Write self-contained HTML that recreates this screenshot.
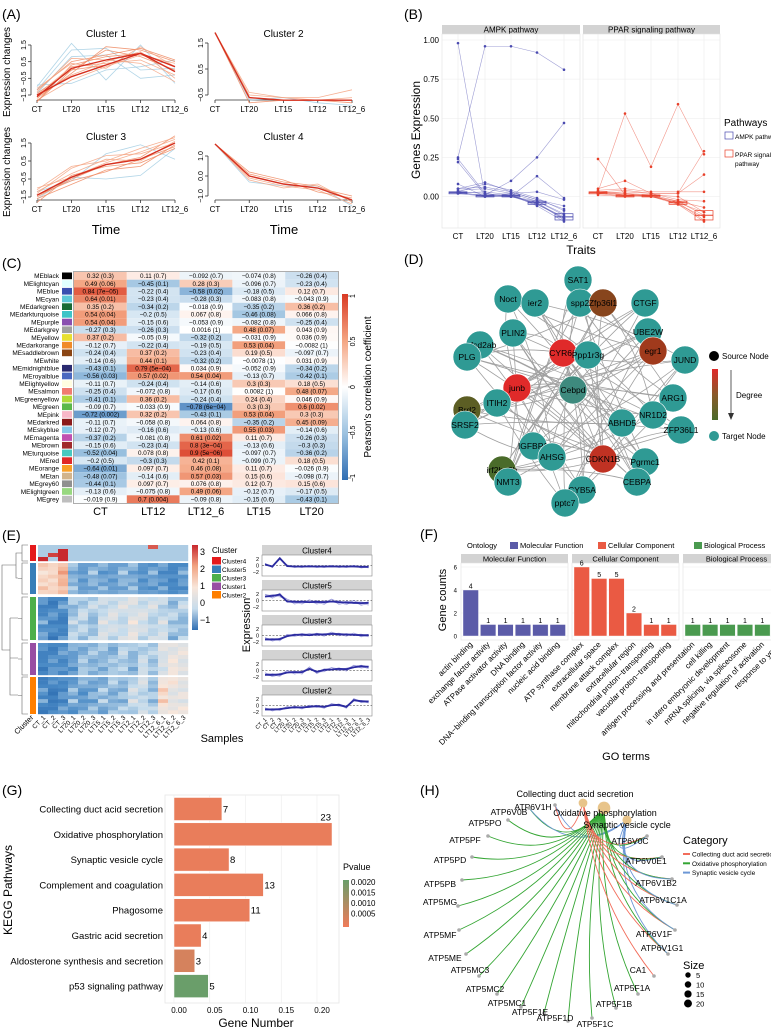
<!DOCTYPE html>
<html><head><meta charset="utf-8"><style>
html,body{margin:0;padding:0;background:#fff;}
svg{display:block;font-family:"Liberation Sans",Arial,sans-serif;}
</style></head><body>
<svg id="fig" xmlns="http://www.w3.org/2000/svg" width="771" height="1029" viewBox="0 0 771 1029">
<rect x="0" y="0" width="771" height="1029" fill="#fff"/>
<defs>
<linearGradient id="gC" x1="0" y1="0" x2="0" y2="1"><stop offset="0" stop-color="#d93a24"/><stop offset="0.25" stop-color="#f4a582"/><stop offset="0.5" stop-color="#ffffff"/><stop offset="0.75" stop-color="#9cc2e0"/><stop offset="1" stop-color="#2f6db3"/></linearGradient>
<linearGradient id="gE" x1="0" y1="0" x2="0" y2="1"><stop offset="0" stop-color="#c8282e"/><stop offset="0.25" stop-color="#f1a482"/><stop offset="0.5" stop-color="#f8e6da"/><stop offset="0.75" stop-color="#c6dcec"/><stop offset="1" stop-color="#2f6fb3"/></linearGradient>
<linearGradient id="gD" x1="0" y1="0" x2="0" y2="1"><stop offset="0" stop-color="#e02a2a"/><stop offset="0.5" stop-color="#8a5a2a"/><stop offset="1" stop-color="#4a6b2a"/></linearGradient>
<linearGradient id="gG" x1="0" y1="0" x2="0" y2="1"><stop offset="0" stop-color="#6a9e6a"/><stop offset="1" stop-color="#f07b5a"/></linearGradient>
</defs>
<g font-size="14">
<text x="2" y="19">(A)</text>
<text x="404" y="19">(B)</text>
<text x="2" y="268">(C)</text>
<text x="404" y="264">(D)</text>
<text x="2" y="540">(E)</text>
<text x="420" y="539">(F)</text>
<text x="2" y="795">(G)</text>
<text x="420" y="795">(H)</text>
</g>
</svg>
<script>
const NS='http://www.w3.org/2000/svg';
const svg=document.getElementById('fig');
function mk(tag,attrs,parent){const e=document.createElementNS(NS,tag);for(const k in attrs)e.setAttribute(k,attrs[k]);(parent||svg).appendChild(e);return e;}
function txt(x,y,s,size,attrs,parent){const t=mk('text',Object.assign({x:x,y:y,'font-size':size},attrs||{}),parent);t.textContent=s;return t;}
function grp(name,parent){const g=mk('g',{},parent);return g;}

/* ============ Panel A data ============ */
const timeLabels=['CT','LT20','LT15','LT12','LT12_6'];
const c1Red=[[-1.9,0.3,0.8,1.0,0.2],[-1.6,-0.3,0.5,1.1,-0.5],[-1.4,0.0,1.2,0.8,0.0],[-1.8,-0.6,0.2,0.9,0.4],[-1.2,0.5,0.9,1.3,0.6],[-1.5,0.2,0.4,0.6,-0.3],[-1.7,-0.2,1.4,1.2,0.5],[-1.3,0.7,0.6,0.4,-0.7],[-1.9,0.0,0.3,1.0,-0.1],[-1.1,0.4,0.1,1.4,0.2]];
const c1Blue=[[-1.0,1.6,-0.6,1.5,-0.8],[-1.2,1.2,1.3,0.0,0.1],[-0.9,-0.8,0.0,0.2,0.6],[-1.4,0.8,0.9,-0.5,-0.3]];
const c1Mean=[[-1.6,0.1,0.6,1.0,-0.1],[-1.5,-0.4,0.3,1.0,0.2]];
const c2Red=[[1.9,-0.6,-0.7,-0.7,-0.7],[1.9,-0.4,-0.6,-0.6,-0.3],[1.9,-0.8,-0.7,-0.7,-0.8],[1.9,-0.5,-0.6,-0.7,-0.6]];
const c2Blue=[[1.9,-0.7,-0.6,-0.8,-0.9]];
const c2Mean=[[1.9,-0.6,-0.7,-0.7,-0.7]];
const c3Red=[[-1.5,-0.5,0.3,0.7,1.9],[-1.2,-0.2,0.6,0.5,1.6],[-1.6,-0.8,0.0,0.2,1.4],[-1.0,-0.4,0.4,1.0,1.7],[-1.8,-0.3,0.2,0.4,1.2],[-1.3,0.1,0.8,0.9,1.5],[-1.4,-0.6,-0.1,0.6,1.3],[-1.1,0.2,0.5,1.2,1.8]];
const c3Blue=[[-1.2,-0.6,0.9,1.4,0.6],[-1.6,-0.4,-0.5,-0.3,1.2]];
const c3Mean=[[-1.4,-0.4,0.3,0.6,1.5]];
const c4Red=[[1.6,0.1,-0.3,-0.5,-1.2],[1.6,-0.1,-0.5,-0.7,-1.4],[1.6,0.0,-0.4,-0.6,-1.0],[1.6,-0.2,-0.6,-0.4,-1.3],[1.6,0.2,-0.2,-0.8,-1.1]];
const c4Blue=[[1.6,-0.3,-0.5,-0.5,-1.5]];
const c4Mean=[[1.6,0.0,-0.4,-0.6,-1.2]];

/* ============ Panel B data ============ */
const traits=['CT','LT20','LT15','LT12','LT12_6'];
const ampkLines=[[0.98,0.0,0.0,-0.04,-0.14],[0.25,0.96,0.96,0.92,0.81],[0.22,0.01,0.1,0.25,0.47],[0.24,0.02,0.0,0.13,-0.01],[0.08,0.0,0.02,0.03,-0.02],[0.05,0.09,0.03,-0.02,-0.06],[0.03,0.08,0.04,-0.01,-0.09],[0.04,0.05,0.02,-0.03,-0.11],[0.02,0.03,0.01,-0.05,-0.13],[0.03,0.02,0.0,-0.04,-0.15],[0.02,0.0,0.01,-0.06,-0.16],[0.05,0.06,0.03,-0.02,-0.08],[0.02,0.01,0.0,-0.05,-0.14],[0.03,0.0,0.0,-0.03,-0.12]];
const pparLines=[[0.24,0.01,0.01,0.0,-0.1],[0.03,0.53,0.19,0.59,0.27],[0.05,0.1,0.02,0.02,0.14],[0.04,0.05,0.03,0.03,0.03],[0.03,0.04,0.02,0.02,0.29],[0.02,0.03,0.02,-0.02,-0.03],[0.03,0.02,0.01,-0.03,-0.07],[0.02,0.01,0.0,-0.04,-0.1],[0.02,0.0,0.01,-0.05,-0.13],[0.03,0.01,0.0,-0.04,-0.15],[0.02,0.02,0.0,-0.03,-0.12],[0.01,0.0,0.0,-0.05,-0.16]];
const ampkBoxQ1=[0.02,0.0,0.0,-0.05,-0.15];
const ampkBoxQ3=[0.03,0.01,0.01,-0.03,-0.11];
const pparBoxQ1=[0.02,0.0,0.0,-0.05,-0.15];
const pparBoxQ3=[0.03,0.01,0.01,-0.03,-0.09];
const bTicks=[0,0.25,0.5,0.75,1.0];
const bTickLabels=['0.00','0.25','0.50','0.75','1.00'];

/* ============ Panel C data ============ */
const modules=['MEblack','MElightcyan','MEblue','MEcyan','MEdarkgreen','MEdarkturquoise','MEpurple','MEdarkgrey','MEyellow','MEdarkorange','MEsaddlebrown','MEwhite','MEmidnightblue','MEroyalblue','MElightyellow','MEsalmon','MEgreenyellow','MEgreen','MEpink','MEdarkred','MEskyblue','MEmagenta','MEbrown','MEturquoise','MEred','MEorange','MEtan','MEgrey60','MElightgreen','MEgrey'];
const moduleColors=['#000000','#e0ffff','#3a4fb0','#5fc8d8','#1a6b35','#3ec4c8','#8a4fb0','#a0a0a0','#e8e030','#f08a28','#8b4513','#ffffff','#2a2a70','#4a68c0','#fffde0','#f07a70','#b0d838','#5ab84a','#f8b8c8','#8b1a1a','#88c8e8','#c050b0','#a02a2a','#48c8c0','#e02828','#f8a028','#d2b48c','#909090','#98d880','#bebebe'];
const traitsC=['CT','LT12','LT12_6','LT15','LT20'];
const corr=[
[0.32,0.11,-0.092,-0.074,-0.26],[0.49,-0.45,0.28,-0.096,-0.23],[0.84,-0.22,-0.58,-0.18,0.12],[0.64,-0.23,-0.28,-0.083,-0.043],[0.35,-0.34,-0.018,-0.35,0.36],[0.54,-0.2,0.067,-0.46,0.066],[0.54,-0.15,-0.053,-0.082,-0.25],[-0.27,-0.26,0.0016,0.48,0.043],[0.37,-0.05,-0.32,-0.031,0.036],[-0.12,-0.22,-0.19,0.53,-0.0082],[-0.24,0.37,-0.23,0.19,-0.097],[-0.14,0.44,-0.32,-0.0078,0.031],[-0.43,0.79,0.034,-0.052,-0.34],[-0.56,0.57,0.54,-0.13,-0.42],[-0.11,-0.24,-0.14,0.3,0.18],[-0.25,-0.072,-0.17,0.0082,0.48],[-0.41,0.36,-0.24,0.24,0.046],[-0.09,-0.033,-0.78,0.3,0.6],[-0.72,0.32,-0.43,0.53,0.3],[-0.11,-0.058,0.064,-0.35,0.45],[-0.12,-0.16,-0.13,0.55,-0.14],[-0.37,-0.081,0.61,0.11,-0.26],[-0.15,-0.23,0.8,-0.13,-0.3],[-0.52,0.078,0.9,-0.097,-0.36],[-0.2,-0.3,0.42,-0.099,0.18],[-0.64,0.097,0.46,0.11,-0.026],[-0.48,-0.14,0.57,0.15,-0.098],[-0.44,0.097,0.076,0.12,0.15],[-0.13,-0.075,0.49,-0.12,-0.17],[-0.019,0.7,-0.09,-0.15,-0.43]];
const pvals=[
['0.3','0.7','0.7','0.8','0.4'],['0.06','0.1','0.3','0.7','0.4'],['7e−05','0.4','0.02','0.5','0.7'],['0.01','0.4','0.3','0.8','0.9'],['0.2','0.2','0.9','0.2','0.2'],['0.04','0.5','0.8','0.08','0.8'],['0.04','0.6','0.9','0.8','0.4'],['0.3','0.3','1','0.07','0.9'],['0.2','0.9','0.2','0.9','0.9'],['0.7','0.4','0.5','0.04','1'],['0.4','0.2','0.4','0.5','0.7'],['0.6','0.1','0.2','1','0.9'],['0.1','5e−04','0.9','0.9','0.2'],['0.03','0.02','0.04','0.7','0.1'],['0.7','0.4','0.6','0.3','0.5'],['0.4','0.8','0.6','1','0.07'],['0.1','0.2','0.4','0.4','0.9'],['0.7','0.9','6e−04','0.3','0.02'],['0.002','0.2','0.1','0.04','0.3'],['0.7','0.8','0.8','0.2','0.09'],['0.7','0.6','0.6','0.03','0.6'],['0.2','0.8','0.02','0.7','0.3'],['0.6','0.4','3e−04','0.6','0.3'],['0.04','0.8','5e−06','0.7','0.2'],['0.5','0.3','0.1','0.7','0.5'],['0.01','0.7','0.08','0.7','0.9'],['0.07','0.6','0.03','0.6','0.7'],['0.1','0.7','0.8','0.7','0.6'],['0.6','0.8','0.06','0.7','0.5'],['0.9','0.004','0.8','0.6','0.1']];
const cbTicks=[1,0.5,0,-0.5,-1];
const cbTickLabels=['1','0.5','0','−0.5','−1'];

/* ============ Panel D data ============ */
const netNodes=['SAT1','Noct','ier2','spp2','Zfp36l1','CTGF','PLIN2','UBE2W','mfsd2ab','PLG','CYR61','Ppp1r3g','egr1','JUND','junb','Cebpd','ARG1','ITIH2','Brd2','NR1D2','SRSF2','ABHD5','ZFP36L1','IGFBP1','AHSG','CDKN1B','Pgrmc1','irf2bp2b','NMT3','CEBPA','CYB5A','pptc7'];
const netDegree=[0,0,0,0,0.7,0,0,0,0,0,1,0,0.8,0,1,0.15,0,0,0.5,0,0,0,0,0,0,0.9,0,0.4,0,0,0,0];
const netEdges='10-0 10-3 10-6 10-14 10-15 10-17 10-21 10-25 10-29 10-13 10-9 10-30 14-1 14-6 14-15 14-23 14-25 14-19 14-16 14-28 14-20 14-5 14-31 15-2 15-7 15-12 15-21 15-24 15-26 15-29 15-8 15-18 15-30 25-4 25-11 25-17 25-22 25-27 25-23 25-13 25-9 25-0 25-6 12-1 12-20 12-24 12-31 12-17 12-3 4-9 4-19 4-28 4-23 4-16 18-13 18-21 18-7 18-26 27-11 27-19 27-5 27-22 27-29 0-31 1-26 2-29 3-28 5-24 6-22 7-20 8-21 9-16 11-20 13-31 16-30 17-26 19-8 21-2 22-9 23-7 24-1 26-6 28-0 29-8 30-9 31-17 2-13 3-16 5-17 8-30 11-28 20-24 1-19 6-29 7-31 13-23 22-20 26-3 28-21';

/* ============ Panel E data ============ */
const sampleLabels=['CT_1','CT_2','CT_3','LT20_1','LT20_2','LT20_3','LT15_1','LT15_2','LT15_3','LT12_1','LT12_2','LT12_3','LT12_6_1','LT12_6_2','LT12_6_3'];
const eClusterNames=['Cluster4','Cluster5','Cluster3','Cluster1','Cluster2'];
const eClusterColors=['#e41a1c','#377eb8','#4daf4a','#984ea3','#ff7f00'];
const eRowCounts=[4,8,11,8,10];
const c4Matrix=[[-0.2,-0.2,-0.2,-0.2,-0.2,-0.2,-0.2,-0.2,-0.2,-0.2,-0.2,2.6,-0.2,-0.2,-0.2],[-0.2,-0.2,3,-0.2,-0.2,-0.2,-0.2,-0.2,-0.2,-0.2,-0.2,-0.2,-0.2,-0.2,-0.2],[-0.2,2.8,3,-0.2,-0.2,-0.2,-0.2,-0.2,-0.2,-0.2,-0.2,-0.2,-0.2,-0.2,-0.2],[3,-0.2,3,-0.2,-0.2,-0.2,-0.2,-0.2,-0.2,-0.2,-0.2,-0.2,-0.2,-0.2,-0.2]];
const c5Profile=[1.2,1.4,1.6,-0.5,-0.6,-0.6,-0.7,-0.6,-0.6,-0.6,-0.7,-0.8,-0.9,-0.9,-0.9];
const c3Profile=[-1,-1,-1,-0.3,0,-0.2,0.1,0.3,0.2,0.4,0.3,0.1,0,-0.2,-0.2];
const c1Profile=[-1,-1,-1,-0.6,-0.4,-0.5,-0.3,-0.4,-0.2,-0.3,0,-0.3,0.5,0.7,0.5];
const c2Profile=[-1.1,-1.1,-1.0,-0.7,-0.6,-0.6,-0.5,-0.3,-0.4,0,0.2,-0.3,1.0,0.8,0.6];
const c5Off=[0.3,-0.2,0.5,0,-0.3,0.2,0.4,-0.1];
const c3Off=[0.2,-0.4,0.5,-0.1,0.3,-0.3,0.6,0,-0.2,0.4,-0.5];
const c1Off=[0.1,-0.3,0.4,-0.2,0.3,0,-0.4,0.2];
const c2Off=[-0.2,0.3,0,0.5,-0.4,0.2,0.6,-0.1,0.4,-0.3];
const eLineMeans={Cluster4:[0.3,-0.3,2.2,-0.2,-0.3,-0.3,-0.3,-0.3,-0.3,-0.3,-0.3,-0.3,-0.3,-0.4,-0.4],Cluster5:[1.2,1.4,1.8,-0.3,-0.4,-0.4,-0.5,-0.4,-0.5,-0.3,-0.5,-0.6,-0.7,-0.8,-0.7],Cluster3:[-1.2,-1.2,-1.1,-0.2,0.2,0.3,0.1,0.4,0.3,0.5,0.4,0.3,0.2,0.1,0.1],Cluster1:[-1.3,-1.3,-1.2,-0.6,-0.5,-0.5,0.5,-0.4,0.2,0.3,0.5,0.4,1.0,1.3,1.1],Cluster2:[-1.2,-1.2,-1.1,-0.8,-0.5,-0.6,-0.4,-0.2,-0.4,0.1,0.2,-0.4,1.6,1.3,1.2]};
const eLineSpread=[0.6,1.2,0.9,1.0,0.8];

/* ============ Panel F data ============ */
const goMF=['actin binding','exchange factor activity','ATPase activator activity','DNA binding','DNA−binding transcription factor activity','nucleic acid binding'];
const goMFcounts=[4,1,1,1,1,1];
const goCC=['ATP synthase complex','extracellular space','membrane attack complex','extracellular region','mitochondrial proton−transporting','vacuolar proton−transporting'];
const goCCcounts=[6,5,5,2,1,1];
const goBP=['antigen processing and presentation','cell killing','in utero embryonic development','mRNA splicing, via spliceosome','negative regulation of activation','response to yeast'];
const goBPcounts=[1,1,1,1,1,1];
const fTicks=[0,2,4,6];

/* ============ Panel G data ============ */
const keggNames=['Collecting duct acid secretion','Oxidative phosphorylation','Synaptic vesicle cycle','Complement and coagulation','Phagosome','Gastric acid secretion','Aldosterone synthesis and secretion','p53 signaling pathway'];
const keggCounts=[7,23,8,13,11,4,3,5];
const keggRatio=[0.067,0.221,0.077,0.125,0.106,0.038,0.029,0.048];
const keggP=[0.0001,0.0001,0.0001,0.0001,0.0001,0.0001,0.0004,0.0020];
const gTicks=[0,0.05,0.1,0.15,0.2];
const gTickLabels=['0.00','0.05','0.10','0.15','0.20'];
const pvTickLabels=['0.0020','0.0015','0.0010','0.0005'];

/* ============ Panel H data ============ */
const hubNames=['Collecting duct acid secretion','Oxidative phosphorylation','Synaptic vesicle cycle'];
const hubSizes=[7,23,8];
const hGenes=['ATP6V1H','ATP6V0B','ATP5PO','ATP5PF','ATP5PD','ATP5PB','ATP5MG','ATP5MF','ATP5ME','ATP5MC3','ATP5MC2','ATP5MC1','ATP5F1E','ATP5F1D','ATP5F1C','ATP5F1B','ATP5F1A','CA1','ATP6V1G1','ATP6V1F','ATP6V1C1A','ATP6V1B2','ATP6V0E1','ATP6V0C'];
const hMembership=['CS','OS','O','O','O','O','O','O','O','O','O','O','O','O','O','O','O','C','COS','COS','COS','COS','COS','COS'];
const sizeLegend=[5,10,15,20];

/* ================= Drawing ================= */
// ---------- Panel A ----------
(function(){
  const gA=grp('panel-a-cluster-lines');
  const panels=[
   {t:'Cluster 1',ax:31,x0:37,x1:175,xb:100,vTop:1.5,yTop:45,vBot:-1.5,yBot:95,ticks:[-1.5,-0.5,0.5,1.5],lab:['−1.5','−0.5','0.5','1.5'],red:c1Red,blue:c1Blue,mean:c1Mean,ty:37},
   {t:'Cluster 2',ax:208,x0:215,x1:352,xb:100,vTop:1.5,yTop:43,vBot:-0.5,yBot:95,ticks:[-0.5,0.5,1.5],lab:['−0.5','0.5','1.5'],red:c2Red,blue:c2Blue,mean:c2Mean,ty:37},
   {t:'Cluster 3',ax:31,x0:37,x1:175,xb:200,vTop:1.5,yTop:143,vBot:-1.5,yBot:197,ticks:[-1.5,-0.5,0.5,1.5],lab:['−1.5','−0.5','0.5','1.5'],red:c3Red,blue:c3Blue,mean:c3Mean,ty:140},
   {t:'Cluster 4',ax:208,x0:215,x1:352,xb:200,vTop:1.0,yTop:156,vBot:-1.0,yBot:196,ticks:[-1,0,1],lab:['−1.0','0.0','1.0'],red:c4Red,blue:c4Blue,mean:c4Mean,ty:140}];
  panels.forEach(function(p,pi){
    const g=grp('cluster-'+(pi+1)+'-plot',gA);
    const xs=i=>p.x0+(p.x1-p.x0)*i/(timeLabels.length-1);
    const ys=v=>p.yTop+(v-p.vTop)*(p.yBot-p.yTop)/(p.vBot-p.vTop);
    const t=txt((p.x0+p.x1)/2,p.ty,p.t,10,{'text-anchor':'middle'},g);
    
    mk('line',{x1:p.ax,y1:ys(p.ticks[0]),x2:p.ax,y2:ys(p.ticks[p.ticks.length-1]),stroke:'#333','stroke-width':0.8},g);
    p.ticks.forEach(function(v,i){
      mk('line',{x1:p.ax-3,y1:ys(v),x2:p.ax,y2:ys(v),stroke:'#333','stroke-width':0.8},g);
      const tt=txt(p.ax-5,ys(v),p.lab[i],7,{'text-anchor':'middle',transform:'rotate(-90 '+(p.ax-5)+' '+ys(v)+')'},g);
    });
    mk('line',{x1:p.x0,y1:p.xb,x2:p.x1,y2:p.xb,stroke:'#333','stroke-width':0.8},g);
    timeLabels.forEach(function(l,i){
      mk('line',{x1:xs(i),y1:p.xb,x2:xs(i),y2:p.xb+3,stroke:'#333','stroke-width':0.8},g);
      txt(xs(i),p.xb+12,l,8,{'text-anchor':'middle'},g);
    });
    function line(vals,col,w,op){
      const pl=mk('polyline',{points:vals.map((v,i)=>xs(i)+','+ys(v)).join(' '),fill:'none',stroke:col,'stroke-width':w,opacity:op},g);
      
      
    }
    p.blue.forEach(v=>line(v,'#9ecae1',0.8,0.8));
    p.red.forEach((v,i)=>line(v,i%2?'#f4a582':'#ef8a62',0.8,0.85));
    p.mean.forEach(v=>line(v,'#d6301f',1.4,1));
  });
  txt(10,72,'Expression changes',10,{'text-anchor':'middle',transform:'rotate(-90 10 72)'},gA);
  txt(10,172,'Expression changes',10,{'text-anchor':'middle',transform:'rotate(-90 10 172)'},gA);
  txt(106,234,'Time',13,{'text-anchor':'middle'},gA);
  txt(284,234,'Time',13,{'text-anchor':'middle'},gA);
})();

// ---------- Panel B ----------
(function(){
  const gB=grp('panel-b-pathway-lines');
  const y0=196.5, k=156.5;
  const ys=v=>y0-v*k;
  const facets=[{n:'AMPK pathway',x0:442,x1:580,cx:[458,485,511,537,564],lines:ampkLines,q1:ampkBoxQ1,q3:ampkBoxQ3,col:'#4a4ab0'},
                {n:'PPAR signaling pathway',x0:583,x1:720,cx:[598,625,651,678,704],lines:pparLines,q1:pparBoxQ1,q3:pparBoxQ3,col:'#e8402a'}];
  facets.forEach(function(f,fi){
    const g=grp(fi?'ppar-facet':'ampk-facet',gB);
    mk('rect',{x:f.x0,y:25,width:f.x1-f.x0,height:9,fill:'#d3d3d3'},g);
    txt((f.x0+f.x1)/2,32.5,f.n,8,{'text-anchor':'middle'},g);
    mk('rect',{x:f.x0,y:34,width:f.x1-f.x0,height:194,fill:'#fff',stroke:'#e0e0e0','stroke-width':0.6},g);
    bTicks.forEach(v=>mk('line',{x1:f.x0,y1:ys(v),x2:f.x1,y2:ys(v),stroke:'#ebebeb','stroke-width':0.6},g));
    f.cx.forEach(x=>mk('line',{x1:x,y1:34,x2:x,y2:228,stroke:'#ebebeb','stroke-width':0.6},g));
    f.cx.forEach(function(x,i){
      const b=mk('rect',{x:x-9,y:ys(f.q3[i]),width:18,height:Math.max(2,ys(f.q1[i])-ys(f.q3[i])),fill:'none',stroke:f.col,'stroke-width':0.7},g);
      
      mk('line',{x1:x-9,y1:ys((f.q1[i]+f.q3[i])/2),x2:x+9,y2:ys((f.q1[i]+f.q3[i])/2),stroke:f.col,'stroke-width':1},g);
    });
    f.lines.forEach(function(vals){
      const pl=mk('polyline',{points:vals.map((v,i)=>f.cx[i]+','+ys(v)).join(' '),fill:'none',stroke:f.col,'stroke-width':0.6,opacity:0.55},g);
      
      vals.forEach((v,i)=>mk('circle',{cx:f.cx[i],cy:ys(v),r:1.3,fill:f.col},g));
    });
    traits.forEach((l,i)=>txt(f.cx[i],239,l,8,{'text-anchor':'middle'},g));
  });
  bTicks.forEach((v,i)=>txt(439,ys(v)+3,bTickLabels[i],8,{'text-anchor':'end'},gB));
  txt(420,130,'Genes Expression',12,{'text-anchor':'middle',transform:'rotate(-90 420 130)'},gB);
  txt(581,254,'Traits',12,{'text-anchor':'middle'},gB);
  const lg=grp('pathways-legend',gB);
  txt(724,126,'Pathways',10,{},lg);
  mk('rect',{x:725,y:132,width:8,height:7,fill:'none',stroke:'#4a4ab0','stroke-width':0.7},lg);
  txt(735,139,'AMPK pathway',6.5,{},lg);
  mk('rect',{x:725,y:150,width:8,height:7,fill:'none',stroke:'#e8402a','stroke-width':0.7},lg);
  txt(735,157,'PPAR signaling',6.5,{},lg);
  txt(735,166,'pathway',6.5,{},lg);
})();

// ---------- Panel C ----------
(function(){
  const gC=grp('panel-c-module-trait-heatmap');
  const x0=74,cw=52.8,y0=272,rh=7.7;
  function col(v){
    const stops=[[-1,[47,109,179]],[-0.5,[156,194,224]],[0,[255,255,255]],[0.5,[244,165,130]],[1,[217,58,36]]];
    for(let i=0;i<stops.length-1;i++){
      if(v<=stops[i+1][0]){const a=stops[i],b=stops[i+1];const t=(v-a[0])/(b[0]-a[0]);
        return 'rgb('+a[1].map((c,j)=>Math.round(c+(b[1][j]-c)*t)).join(',')+')';}
    }
    return 'rgb(217,58,36)';
  }
  mk('rect',{x:x0-0.5,y:y0-0.5,width:cw*5+1,height:rh*modules.length+1,fill:'none',stroke:'#999','stroke-width':0.8},gC);
  modules.forEach(function(m,r){
    const y=y0+r*rh;
    txt(59,y+rh-1.5,m,6.5,{'text-anchor':'end'},gC);
    const sw=mk('rect',{x:62,y:y+0.5,width:10,height:rh-1,fill:moduleColors[r]},gC);
    
    corr[r].forEach(function(v,c){
      const cell=mk('rect',{x:x0+c*cw,y:y,width:cw,height:rh,fill:col(v)},gC);
      
      
      const s=(v<0?'−':'')+String(Math.abs(v))+' ('+pvals[r][c]+')';
      txt(x0+c*cw+cw/2,y+rh-1.6,s,6.3,{'text-anchor':'middle'},gC);
    });
  });
  traitsC.forEach((t,i)=>txt(x0+i*cw+cw/2,515,t,11,{'text-anchor':'middle'},gC));
  const cb=grp('correlation-colorbar',gC);
  mk('rect',{x:342,y:294,width:6,height:186,fill:'url(#gC)'},cb);
  cbTicks.forEach(function(v,i){const y=387-v*91;mk('line',{x1:348,y1:y,x2:351,y2:y,stroke:'#333','stroke-width':0.6},cb);
    txt(355,y,cbTickLabels[i],7,{'text-anchor':'middle',transform:'rotate(-90 355 '+y+')'},cb);});
  txt(371,387,"Pearson's correlation coefficient",10,{'text-anchor':'middle',transform:'rotate(-90 371 387)'},cb);
})();

// ---------- Panel D ----------
(function(){
  const gD=grp('panel-d-network');
  const layout=[[578,280],[508,299],[535,303],[580,303],[603,303],[645,303],[513,333],[648,332],[480,345],[467,357],[563,353],[588,355],[653,351],[685,360],[517,388],[573,390],[673,398],[497,403],[467,410],[653,415],[465,425],[622,423],[681,430],[533,446],[552,457],[603,459],[645,462],[502,470],[508,482],[637,482],[582,490],[565,503]];
  const eg=grp('network-edges',gD);
  netEdges.split(' ').forEach(function(s,i){
    const ab=s.split('-').map(Number);const a=layout[ab[0]],b=layout[ab[1]];
    const mx=(a[0]+b[0])/2+((i%3)-1)*12,my=(a[1]+b[1])/2+((i%2)?10:-10);
    const p=mk('path',{d:'M'+a[0]+','+a[1]+' Q'+mx+','+my+' '+b[0]+','+b[1],fill:'none',stroke:'#a0a0a0','stroke-width':0.8},eg);
    
  });
  function degCol(d){
    if(d===0)return '#2f9a94';
    if(d<0.3)return '#3e8a7e';
    const stops=[[0.4,[74,107,42]],[0.6,[110,80,30]],[0.8,[160,58,28]],[1,[224,42,42]]];
    for(let i=0;i<stops.length-1;i++){if(d<=stops[i+1][0]){const a=stops[i],b=stops[i+1];const t=(d-a[0])/(b[0]-a[0]);return 'rgb('+a[1].map((c,j)=>Math.round(c+(b[1][j]-c)*t)).join(',')+')';}}
    return '#e02a2a';
  }
  netNodes.forEach(function(n,i){
    const g=grp('node-'+n.toLowerCase(),gD);
    const c=mk('circle',{cx:layout[i][0],cy:layout[i][1],r:14,fill:degCol(netDegree[i]),stroke:'#fff','stroke-width':0.6},g);
    
    
    txt(layout[i][0],layout[i][1]+3,n,8.5,{'text-anchor':'middle'},g);
  });
  const lg=grp('network-legend',gD);
  mk('circle',{cx:714,cy:356,r:5,fill:'#000'},lg);
  txt(722,359,'Source Node',8,{},lg);
  mk('rect',{x:712,y:369,width:6,height:51,fill:'url(#gD)'},lg);
  mk('line',{x1:731,y1:370,x2:731,y2:415,stroke:'#333','stroke-width':0.8},lg);
  mk('path',{d:'M728,413 L731,420 L734,413 Z',fill:'#333'},lg);
  txt(736,398,'Degree',8,{},lg);
  mk('circle',{cx:714,cy:436,r:5,fill:'#2f9a94'},lg);
  txt(722,439,'Target Node',8,{},lg);
})();

// ---------- Panel E ----------
(function(){
  const gE=grp('panel-e-cluster-heatmap');
  const x0=38,cw=10,yTop=545;
  function col(v){
    const stops=[[-1.6,[47,111,179]],[-1,[75,139,198]],[0,[198,220,236]],[1,[248,230,218]],[2,[241,164,130]],[3,[200,40,46]]];
    if(v<=-1.6)return 'rgb(47,111,179)';
    for(let i=0;i<stops.length-1;i++){if(v<=stops[i+1][0]){const a=stops[i],b=stops[i+1];const t=(v-a[0])/(b[0]-a[0]);return 'rgb('+a[1].map((c,j)=>Math.round(c+(b[1][j]-c)*t)).join(',')+')';}}
    return 'rgb(200,40,46)';
  }
  const mats=[c4Matrix,
    c5Off.map((o,r)=>c5Profile.map((p,c)=>p+o*((c%3)===(r%3)?1:-0.5))),
    c3Off.map((o,r)=>c3Profile.map((p,c)=>p+o*((c%3)===(r%3)?1:-0.5))),
    c1Off.map((o,r)=>c1Profile.map((p,c)=>p+o*((c%3)===(r%3)?1:-0.5))),
    c2Off.map((o,r)=>c2Profile.map((p,c)=>p+o*((c%3)===(r%3)?1:-0.5)))];
  const blocks=[[545,561],[563,594],[597,640],[643,675],[677,714]];
  mats.forEach(function(M,bi){
    const g=grp('heatmap-block-'+eClusterNames[bi].toLowerCase(),gE);
    const h=(blocks[bi][1]-blocks[bi][0])/M.length;
    const cb=mk('rect',{x:30,y:blocks[bi][0],width:6,height:blocks[bi][1]-blocks[bi][0],fill:eClusterColors[bi]},g);
    
    M.forEach(function(row,r){row.forEach(function(v,c){
      const cell=mk('rect',{x:x0+c*cw,y:blocks[bi][0]+r*h,width:cw+0.2,height:h+0.2,fill:col(v)},g);
      
    });});
    // dendrogram
    const d=mk('path',{d:'M28,'+blocks[bi][0]+' L22,'+blocks[bi][0]+' L22,'+blocks[bi][1]+' L28,'+blocks[bi][1]+' M22,'+((blocks[bi][0]+blocks[bi][1])/2)+' L18,'+((blocks[bi][0]+blocks[bi][1])/2),fill:'none',stroke:'#666','stroke-width':0.6},g);
    
  });
  mk('path',{d:'M18,553 L16,553 L16,578 L18,578 M16,565 L2,565 L2,650 L10,650 M10,618 L10,695 L18,695 M10,658 L18,658 M18,618 L10,618',fill:'none',stroke:'#666','stroke-width':0.6},gE);
  sampleLabels.forEach(function(s,i){const x=x0+i*cw+cw/2;txt(x+3,718,s,6.5,{'text-anchor':'end',transform:'rotate(-45 '+(x+3)+' 718)'},gE);});
  txt(34,718,'Cluster',7.5,{'text-anchor':'end',transform:'rotate(-45 34 718)'},gE);
  txt(222,742,'Samples',11,{'text-anchor':'middle'},gE);
  const cb=grp('expression-colorbar',gE);
  mk('rect',{x:192,y:545,width:6,height:85,fill:'url(#gE)'},cb);
  [['3',552],['2',569],['1',586],['0',603],['−1',620]].forEach(t=>txt(200,t[1]+3,t[0],9,{},cb));
  const lg=grp('cluster-legend',gE);
  txt(212,553,'Cluster',8,{},lg);
  eClusterNames.forEach(function(n,i){mk('rect',{x:212,y:557+i*8.5,width:9,height:7.5,fill:eClusterColors[i]},lg);txt(222,563.5+i*8.5,n,6.5,{},lg);});
  // line panels
  const tops=[545,580,615,650,685];
  const lp=grp('cluster-expression-line-panels',gE);
  eClusterNames.forEach(function(n,i){
    const g=grp('line-panel-'+n.toLowerCase(),lp);
    const t=tops[i];
    mk('rect',{x:262,y:t,width:110,height:10,fill:'#d3d3d3'},g);
    txt(317,t+8.5,n,8,{'text-anchor':'middle'},g);
    mk('rect',{x:262,y:t+10,width:110,height:21,fill:'#fff',stroke:'#888','stroke-width':0.6},g);
    const ys=v=>t+20.5-v*3.3;
    const xs=c=>265+c*7.4;
    mk('line',{x1:262,y1:ys(0),x2:372,y2:ys(0),stroke:'#333','stroke-width':0.6,'stroke-dasharray':'2,1.5'},g);
    [['2',2],['0',0],['−2',-2]].forEach(a=>txt(259,ys(a[1])+2,a[0],5.5,{'text-anchor':'end'},g));
    const mean=eLineMeans[n];
    [-1,-0.6,-0.3,0.3,0.6,1].forEach(function(kk,j){
      const pl=mk('polyline',{points:mean.map((v,c)=>xs(c)+','+ys(v+kk*eLineSpread[i]*(((c+j)%3)-1)*0.6)).join(' '),fill:'none',stroke:'#6a6ac8','stroke-width':0.6,opacity:0.6},g);
      
    });
    const pm=mk('polyline',{points:mean.map((v,c)=>xs(c)+','+ys(v)).join(' '),fill:'none',stroke:'#2b2ba0','stroke-width':1.8},g);
    
  });
  sampleLabels.forEach(function(s,i){const x=265+i*7.4;txt(x+2,720,s,5.5,{'text-anchor':'end',transform:'rotate(-45 '+(x+2)+' 720)'},lp);});
  txt(250,625,'Expression',11,{'text-anchor':'middle',transform:'rotate(-90 250 625)'},lp);
})();

// ---------- Panel F ----------
(function(){
  const gF=grp('panel-f-go-bars');
  const y0=636,k=11.5;
  const lg=grp('ontology-legend',gF);
  txt(467,548,'Ontology',7.5,{},lg);
  [['Molecular Function','#5b5ba8',510],['Cellular Component','#ea5a43',598],['Biological Process','#4a9a4f',694]].forEach(function(e){
    mk('rect',{x:e[2],y:542,width:8,height:7,fill:e[1]},lg);txt(e[2]+10,548,e[0],7.5,{},lg);});
  const facets=[{n:'Molecular Function',x0:461,x1:568,names:goMF,vals:goMFcounts,col:'#5b5ba8'},
                {n:'Cellular Component',x0:572,x1:679,names:goCC,vals:goCCcounts,col:'#ea5a43'},
                {n:'Biological Process',x0:683,x1:790,names:goBP,vals:goBPcounts,col:'#4a9a4f'}];
  facets.forEach(function(f){
    const g=grp('facet-'+f.n.toLowerCase().replace(/ /g,'-'),gF);
    mk('rect',{x:f.x0,y:554,width:f.x1-f.x0,height:9,fill:'#d3d3d3'},g);
    txt((f.x0+f.x1)/2,561.5,f.n,7.5,{'text-anchor':'middle'},g);
    mk('rect',{x:f.x0,y:563,width:f.x1-f.x0,height:77,fill:'#fff',stroke:'#e0e0e0','stroke-width':0.6},g);
    fTicks.forEach(v=>mk('line',{x1:f.x0,y1:y0-v*k,x2:f.x1,y2:y0-v*k,stroke:'#ebebeb','stroke-width':0.6},g));
    f.vals.forEach(function(v,i){
      const x=f.x0+2+i*17.4;
      const b=mk('rect',{x:x,y:y0-v*k,width:15.5,height:v*k,fill:f.col,stroke:'#fff','stroke-width':0.4},g);
      
      txt(x+7.75,y0-v*k-1.5,String(v),7,{'text-anchor':'middle'},g);
      txt(x+10,645,f.names[i],8,{'text-anchor':'end',transform:'rotate(-45 '+(x+10)+' 645)'},g);
    });
  });
  fTicks.forEach(v=>txt(457,y0-v*k+2.5,String(v),6,{'text-anchor':'end'},gF));
  txt(446,600,'Gene counts',11,{'text-anchor':'middle',transform:'rotate(-90 446 600)'},gF);
  txt(626,760,'GO terms',11,{'text-anchor':'middle'},gF);
})();

// ---------- Panel G ----------
(function(){
  const gG=grp('panel-g-kegg-bars');
  const x0=174,k=715,top=795,bh=25.3;
  mk('rect',{x:165,y:top,width:174,height:208,fill:'#fff',stroke:'#e6e6e6','stroke-width':0.8},gG);
  gTicks.forEach(v=>mk('line',{x1:x0+v*k,y1:top,x2:x0+v*k,y2:1003,stroke:'#ececec','stroke-width':0.6},gG));
  function pcol(p){const t=Math.min(1,p/0.002);const a=[240,123,90],b=[106,158,106];return 'rgb('+a.map((c,j)=>Math.round(c+(b[j]-c)*t)).join(',')+')';}
  keggNames.forEach(function(n,i){
    const cy=top+14+i*bh;
    const b=mk('rect',{x:x0,y:cy-11.5,width:keggRatio[i]*k,height:23,fill:pcol(keggP[i]),stroke:'#fff','stroke-width':0.5},gG);
    
    
    txt(163,cy+3.5,n,9.5,{'text-anchor':'end'},gG);
    if(i===1)txt(x0+keggRatio[i]*k-1,cy-14,String(keggCounts[i]),9.5,{'text-anchor':'end'},gG);
    else txt(x0+keggRatio[i]*k+1,cy+3.5,String(keggCounts[i]),9.5,{},gG);
  });
  gTicks.forEach((v,i)=>txt(x0+v*k+5,1013,gTickLabels[i],8,{'text-anchor':'middle'},gG));
  txt(256,1027,'Gene Number',12,{'text-anchor':'middle'},gG);
  txt(12,890,'KEGG Pathways',12,{'text-anchor':'middle',transform:'rotate(-90 12 890)'},gG);
  const lg=grp('pvalue-legend',gG);
  txt(343,870,'Pvalue',9,{},lg);
  mk('rect',{x:343,y:880,width:6,height:47,fill:'url(#gG)'},lg);
  pvTickLabels.forEach((l,i)=>txt(351,885+i*10.5,l,8,{},lg));
})();

// ---------- Panel H ----------
(function(){
  const gH=grp('panel-h-cnet');
  const hubs=[[583,803],[604,808],[627,820]];
  const genePos=[[555,805],[529,808],[508,820],[488,836],[472,857],[462,880],[458,906],[459,930],[466,954],[479,976],[497,994],[521,1007],[544,1013],[568,1021],[592,1018],[616,1008],[638,994],[654,976],[668,954],[675,930],[677,905],[672,879],[662,857],[647,836]];
  const labelPos=[[533,810,'middle'],[509,815,'middle'],[485,826,'middle'],[465,843,'middle'],[450,863,'middle'],[440,887,'middle'],[440,905,'middle'],[440,938,'middle'],[445,961,'middle'],[470,973,'middle'],[485,992,'middle'],[507,1006,'middle'],[530,1015,'middle'],[555,1021,'middle'],[595,1027,'middle'],[614,1007,'middle'],[632,991,'middle'],[638,973,'middle'],[662,951,'middle'],[654,937,'middle'],[663,903,'middle'],[656,886,'middle'],[646,864,'middle'],[630,844,'middle']];
  const center=[565,915];
  const catCol={C:'#f26d5b',O:'#33a532',S:'#6c97d6'};
  const hubIdx={C:0,O:1,S:2};
  const eg=grp('cnet-edges',gH);
  hGenes.forEach(function(g,i){
    hMembership[i].split('').forEach(function(c){
      const h=hubs[hubIdx[c]],p=genePos[i];
      const mx=(h[0]+p[0])/2,my=(h[1]+p[1])/2;
      const cx=mx+(center[0]-mx)*0.45,cy=my+(center[1]-my)*0.45;
      const e=mk('path',{d:'M'+h[0]+','+h[1]+' Q'+cx+','+cy+' '+p[0]+','+p[1],fill:'none',stroke:catCol[c],'stroke-width':0.9},eg);
      
    });
  });
  hGenes.forEach(function(g,i){
    const d=mk('circle',{cx:genePos[i][0],cy:genePos[i][1],r:1.8,fill:'#aaa'},gH);
    
    txt(labelPos[i][0],labelPos[i][1],g,8.5,{'text-anchor':labelPos[i][2]},gH);
  });
  hubs.forEach(function(h,i){
    const c=mk('circle',{cx:h[0],cy:h[1],r:2+Math.sqrt(hubSizes[i])*0.9,fill:'#e8c48a'},gH);
    
  });
  txt(575,797,hubNames[0],9,{'text-anchor':'middle'},gH);
  txt(605,816,hubNames[1],9,{'text-anchor':'middle'},gH);
  txt(627,828,hubNames[2],9,{'text-anchor':'middle'},gH);
  const lg=grp('category-legend',gH);
  txt(683,844,'Category',11,{},lg);
  [['Collecting duct acid secretion','#f26d5b'],['Oxidative phosphorylation','#33a532'],['Synaptic vesicle cycle','#6c97d6']].forEach(function(e,i){
    mk('line',{x1:683,y1:854+i*9.3,x2:690,y2:854+i*9.3,stroke:e[1],'stroke-width':2},lg);
    txt(692,856.5+i*9.3,e[0],6.5,{},lg);
  });
  const sl=grp('size-legend',gH);
  txt(683,969,'Size',11,{},sl);
  sizeLegend.forEach(function(s,i){mk('circle',{cx:688,cy:975+i*9.5,r:1.5+Math.sqrt(s)*0.55,fill:'#000'},sl);txt(696,978+i*9.5,String(s),7.5,{},sl);});
})();
</script>
</body></html>
